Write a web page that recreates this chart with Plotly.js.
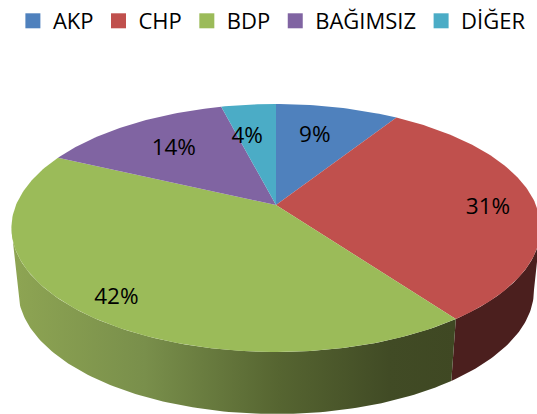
<!DOCTYPE html>
<html>
<head>
<meta charset="utf-8">
<script src="https://cdn.plot.ly/plotly-3.0.1.min.js"></script>
<style>html,body{margin:0;padding:0;background:#fff;overflow:hidden}#c{width:537px;height:414px}</style>
</head>
<body>
<div id="c"></div>
<script>
const categories = ["AKP", "CHP", "BDP", "BAĞIMSIZ", "DİĞER"];
const shares = [9, 31, 42, 14, 4];
const colors = ["#4f81bd", "#c0504d", "#9bbb59", "#8064a2", "#4bacc6"];
const labelAngles = [13, 89, 220, 321.5, 349];
const labelRadii = [0.71, 0.81, 0.85, 0.71, 0.70];
const wallScales = {
  "BDP": [[0, "#8ea553"], [0.3, "#798f4b"], [0.6, "#566531"], [0.85, "#414b25"], [1, "#3f4823"]],
  "CHP": [[0, "#4b1f1e"], [1, "#4b1f1e"]]
};

// view of the disc: centre, radii, perspective and thickness
const cx = 276, cy = 205, rx = 260, ry = 119.7, persp = 0.1855, depth = 62, shrink = 0.975;
const labelDrop = 5, labelNudge = 2;

function project(deg, r) {
  const t = deg * Math.PI / 180, u = r * Math.sin(t), v = r * Math.cos(t), d = 1 + persp * v;
  return [cx + rx * u / d, cy - ry * v / d];
}
function arc(a0, a1) {
  const pts = [], n = Math.max(2, Math.ceil(Math.abs(a1 - a0)));
  for (let i = 0; i <= n; i++) pts.push(project(a0 + (a1 - a0) * i / n, 1));
  return pts;
}
const total = shares.reduce((a, b) => a + b, 0);
const starts = [];
shares.reduce((acc, s, i) => { starts[i] = acc; return acc + s; }, 0);
const angleOf = s => s / total * 360;
// the wall is only visible between the two silhouette points of the rim
const silhouette = Math.acos(-persp) * 180 / Math.PI;

const traces = [];
categories.forEach((name, i) => {
  if (!wallScales[name]) return;
  const a0 = Math.max(angleOf(starts[i]), silhouette);
  const a1 = Math.min(angleOf(starts[i] + shares[i]), 360 - silhouette);
  const top = arc(a0, a1);
  const low = top.slice().reverse().map(p => [cx + shrink * (p[0] - cx), p[1] + depth]);
  const pts = top.concat(low);
  pts.push(pts[0]);
  traces.push({
    type: "scatter", mode: "lines", x: pts.map(p => p[0]), y: pts.map(p => p[1]),
    fill: "toself", line: {width: 0}, showlegend: false, hoverinfo: "skip",
    fillgradient: {type: "horizontal", colorscale: wallScales[name]}
  });
});
// top faces
categories.forEach((name, i) => {
  const a0 = angleOf(starts[i]), a1 = angleOf(starts[i] + shares[i]);
  const pts = [[cx, cy]].concat(arc(a0, a1));
  pts.push([cx, cy]);
  traces.push({
    type: "scatter", mode: "lines", x: pts.map(p => p[0]), y: pts.map(p => p[1]),
    fill: "toself", fillcolor: colors[i], line: {width: 0, color: colors[i]},
    showlegend: false, name: name, hoverinfo: "name"
  });
});
// percentage labels
const labelPts = labelAngles.map((a, i) => project(a, labelRadii[i]));
traces.push({
  type: "scatter", mode: "text", x: labelPts.map(p => p[0] + labelNudge), y: labelPts.map(p => p[1] + labelDrop),
  text: shares.map(s => s + "%"), textposition: "middle center",
  textfont: {family: "Open Sans", size: 22.5, color: "#000"}, showlegend: false, hoverinfo: "skip"
});
// legend keys
categories.forEach((name, i) => {
  traces.push({
    type: "scatter", mode: "markers", x: [null], y: [null], name: name,
    marker: {symbol: "square", size: 15, color: colors[i]}, showlegend: true
  });
});

Plotly.newPlot("c", traces, {
  width: 537, height: 414,
  margin: {l: 0, r: 0, t: 0, b: 0},
  paper_bgcolor: "#fff", plot_bgcolor: "#fff",
  xaxis: {range: [0, 537], visible: false, fixedrange: true},
  yaxis: {range: [414, 0], visible: false, fixedrange: true},
  showlegend: true,
  legend: {
    orientation: "h", x: 0.024, y: 1, xanchor: "left", yanchor: "top",
    font: {family: "Open Sans", size: 22, color: "#000"}, bgcolor: "rgba(0,0,0,0)",
    itemwidth: 30
  }
}, {displayModeBar: false, staticPlot: true});
</script>
</body>
</html>
